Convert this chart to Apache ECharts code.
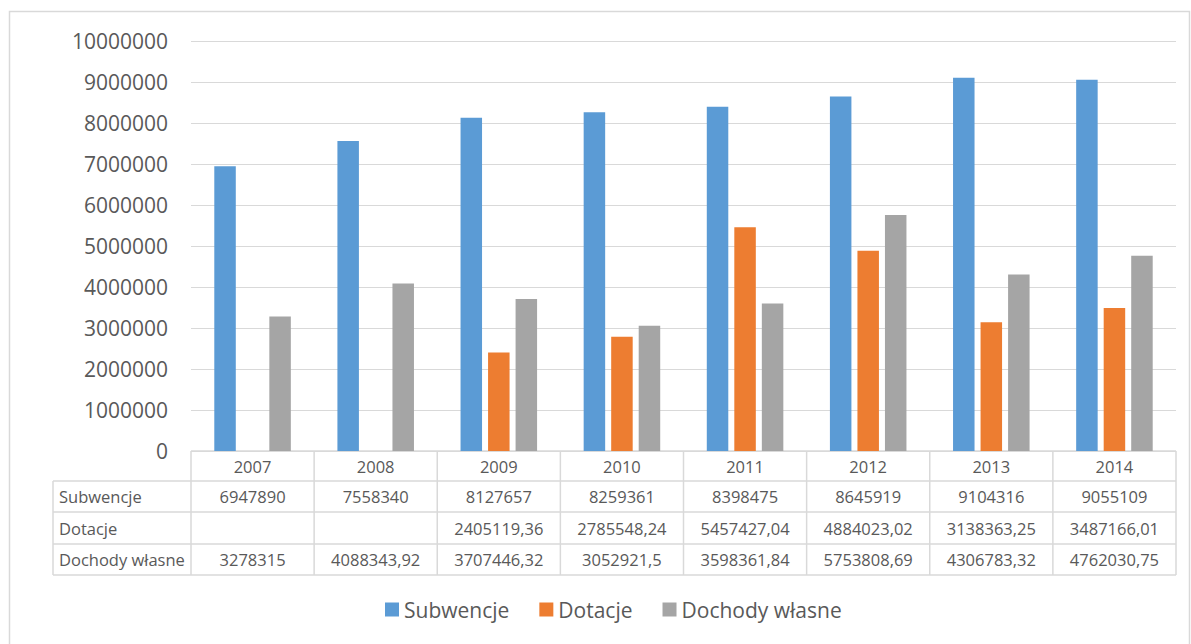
<!DOCTYPE html>
<html>
<head>
<meta charset="utf-8">
<script src="https://cdn.jsdelivr.net/npm/echarts@6/dist/echarts.min.js"></script>
<style>
html,body{margin:0;padding:0;background:#fff;}
#chart{width:1191px;height:644px;}
</style>
</head>
<body>
<div id="chart"></div>
<script>
const years = ['2007','2008','2009','2010','2011','2012','2013','2014'];
const seriesNames = ['Subwencje','Dotacje','Dochody własne'];
const subwencje = [6947890, 7558340, 8127657, 8259361, 8398475, 8645919, 9104316, 9055109];
const dotacje = [null, null, 2405119.36, 2785548.24, 5457427.04, 4884023.02, 3138363.25, 3487166.01];
const dochody = [3278315, 4088343.92, 3707446.32, 3052921.5, 3598361.84, 5753808.69, 4306783.32, 4762030.75];
const yMin = 0, yMax = 10000000, yStep = 1000000;

const colors = ['#5B9BD5', '#ED7D31', '#A5A5A5'];
const textColor = '#595959';
const lineColor = '#D9D9D9';
const font = '"Open Sans", "Noto Sans", sans-serif';

const chart = echarts.init(document.getElementById('chart'), null, {renderer: 'svg'});

const allSeries = [subwencje, dotacje, dochody];
const option = {
  animation: false,
  backgroundColor: '#fff',
  grid: {left: 191, right: 15, top: 41, bottom: 193, containLabel: false},
  legend: {
    data: seriesNames,
    bottom: 19,
    left: 380,
    icon: 'rect',
    itemWidth: 14,
    itemHeight: 14,
    itemGap: 30,
    textStyle: {fontSize: 21, color: textColor, fontFamily: font}
  },
  xAxis: {
    type: 'category',
    data: years,
    axisLine: {show: false},
    axisTick: {show: false},
    axisLabel: {show: false}
  },
  yAxis: {
    type: 'value',
    min: yMin, max: yMax, interval: yStep,
    axisLine: {show: false},
    axisTick: {show: false},
    splitLine: {lineStyle: {color: lineColor, width: 1}},
    axisLabel: {
      fontSize: 21, color: textColor, fontFamily: font, margin: 23,
      formatter: v => String(v)
    }
  },
  series: seriesNames.map((n, i) => ({
    name: n,
    type: 'bar',
    data: allSeries[i],
    barWidth: 21.5,
    barGap: '28%',
    itemStyle: {color: colors[i]}
  }))
};
chart.setOption(option);

function fmt(v) {
  if (v === null || v === undefined) return '';
  return String(v).replace('.', ',');
}

const centers = years.map((_, i) => chart.convertToPixel({xAxisIndex: 0}, i));
const colW = centers.length > 1 ? centers[1] - centers[0] : 100;
const tableLeft = centers[0] - colW / 2;
const tableRight = centers[centers.length - 1] + colW / 2;
const labelLeft = 53;
const y0 = chart.convertToPixel({yAxisIndex: 0}, 0);
const rowYs = [y0, 481, 512, 544, 575];

const g = [];
g.push({type: 'rect', shape: {x: 9.5, y: 11.5, width: 1180, height: 700}, style: {fill: 'none', stroke: lineColor, lineWidth: 1.5}, silent: true});
function hline(x1, x2, y) {
  g.push({type: 'line', shape: {x1, y1: y, x2, y2: y}, style: {stroke: lineColor, lineWidth: 1.5}, silent: true});
}
function vline(x, y1, y2) {
  g.push({type: 'line', shape: {x1: x, y1, x2: x, y2}, style: {stroke: lineColor, lineWidth: 1.5}, silent: true});
}
hline(tableLeft, tableRight, rowYs[0]);
for (let r = 1; r < rowYs.length; r++) hline(labelLeft, tableRight, rowYs[r]);
vline(labelLeft, rowYs[1], rowYs[4]);
for (let i = 0; i <= years.length; i++) vline(tableLeft + i * colW, rowYs[0], rowYs[4]);

function text(str, x, y, align) {
  g.push({type: 'text', x, y, style: {text: str, fill: textColor, font: '16.5px ' + font, align: align, verticalAlign: 'middle'}, silent: true});
}
years.forEach((yr, i) => text(yr, centers[i], (rowYs[0] + rowYs[1]) / 2, 'center'));
seriesNames.forEach((n, r) => {
  const yc = (rowYs[r + 1] + rowYs[r + 2]) / 2;
  text(n, labelLeft + 6, yc, 'left');
  allSeries[r].forEach((v, i) => text(fmt(v), centers[i], yc, 'center'));
});
chart.setOption({graphic: {elements: g}});
</script>
</body>
</html>
